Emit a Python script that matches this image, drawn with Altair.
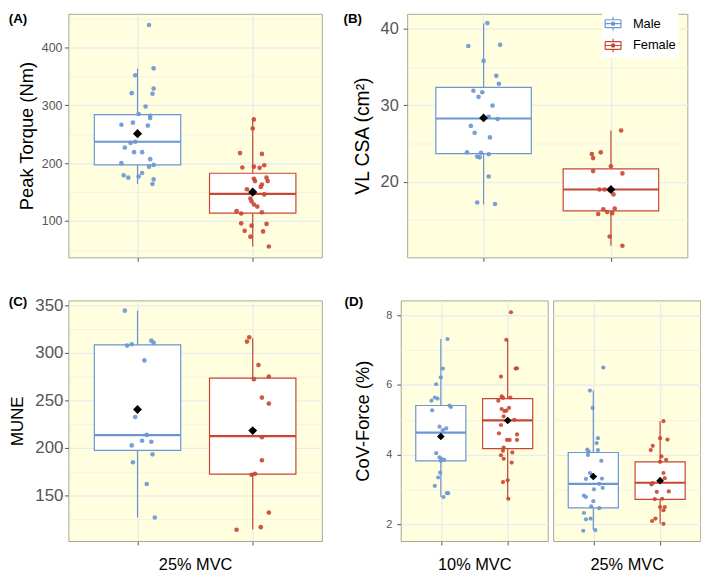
import altair as alt
import pandas as pd

FONT = "Liberation Sans"
BLUE = "#6A96D2"
RED = "#C84632"
GRID = "#EBEBEB"
LABEL_GRAY = "#555555"
TICK_GRAY = "#555555"
PANEL_FILL = "#FFFFE0"
PANEL_STROKE = "#A6A692"

SEXES = ["Male", "Female"]
SEX_POS = {"Male": 1, "Female": 2}
STAT_KEYS = ["lower", "q1", "median", "q3", "upper", "mean"]
panel_labels = ["(A)", "(B)", "(C)", "(D)"]

# ---------------- Panel A : Peak Torque (Nm) ----------------
a_male = [438.8, 364, 352, 329, 321, 320, 298, 285, 282, 278, 266.5, 270, 265, 237,
          235, 227, 219, 219, 207, 200, 197, 194, 179, 175, 183, 177, 172, 164]
a_male_jit = [0.10, 0.14, -0.02, 0.14, -0.05, 0.13, 0.07, 0.01, 0.11, 0.11, -0.14, -0.04,
              0.09, -0.02, -0.06, -0.11, -0.03, 0.04, 0.11, -0.14, 0.14, 0.10, -0.12,
              -0.08, 0.04, 0.01, 0.14, 0.13]
a_female = [275.6, 260, 217.5, 216, 196.5, 192.5, 194, 192, 173, 175, 169, 169, 163, 159,
            155, 146, 139, 134, 128.5, 125, 117, 113, 115, 96, 92, 95, 83, 82, 73, 56]
a_female_jit = [0.01, 0.00, -0.11, 0.08, 0.10, -0.09, 0.01, 0.06, 0.01, 0.12, 0.02, 0.13,
                0.08, 0.07, -0.05, 0.10, -0.02, -0.01, 0.01, 0.04, -0.14, -0.10, 0.08,
                -0.10, -0.01, 0.12, -0.07, 0.09, -0.02, 0.14]
a_male_stats = [164, 197, 237, 284, 363.5, 251]
a_female_stats = [56, 113.6, 147, 182.6, 275.6, 150]
a_major = [100, 200, 300, 400]
a_minor = [50, 150, 250, 350, 450]
a_domain = [37.2, 458.2]

# ---------------- Panel B : VL CSA (cm2) ----------------
b_male = [40.74, 37.75, 37.9, 35.8, 33.85, 32.8, 31.9, 31.7, 31.1, 29.96, 28.5, 28.2,
          27.3, 26.4, 25.8, 23.85, 23.8, 23.6, 23.3, 23.2, 20.7, 17.3, 17.1]
b_male_jit = [0.03, -0.12, 0.13, 0.00, 0.10, 0.12, -0.08, -0.01, -0.04, 0.07, 0.04, 0.11,
              -0.10, -0.07, 0.05, -0.13, -0.02, 0.04, -0.05, -0.03, 0.04, -0.05, 0.09]
b_female = [26.7, 23.64, 23.85, 23.1, 22.03, 21.4, 21.1, 19.0, 19.0, 18.9, 18.35, 16.4,
            16.5, 15.8, 16.06, 15.9, 12.86, 11.65]
b_female_jit = [0.08, -0.15, -0.08, -0.14, 0.00, -0.14, 0.09, -0.09, -0.05, -0.01, 0.02,
                -0.06, 0.03, -0.10, -0.03, 0.01, -0.01, 0.09]
b_male_stats = [17.05, 23.68, 28.27, 32.34, 40.7, 28.35]
b_female_stats = [11.65, 16.2, 19.0, 21.7, 26.7, 19.0]
b_major = [20, 30, 40]
b_minor = [15, 25, 35]
b_domain = [10.13, 41.95]

# ---------------- Panel C : MUNE ----------------
c_male = [344.4, 307.6, 309, 312.8, 310.4, 292, 232.3, 213.5, 207.3, 206.3, 202.4, 193,
          184.7, 161.8, 126.4]
c_male_jit = [-0.11, -0.09, -0.05, 0.12, 0.14, 0.06, -0.02, 0.08, 0.04, 0.12, -0.05, 0.13,
              -0.04, 0.08, 0.15]
c_female = [316.3, 311.8, 287.2, 275, 272.2, 252.8, 246.5, 211.1, 186.8, 171.5, 172.6,
            131.6, 116.3, 113.5]
c_female_jit = [-0.03, -0.05, 0.05, 0.14, 0.01, 0.08, 0.14, 0.08, 0.08, -0.01, 0.02, 0.14,
                0.07, -0.14]
c_male_stats = [126.4, 197.2, 213.2, 308.3, 344.4, 240.3]
c_female_stats = [113.9, 172.2, 212.2, 273.3, 315.3, 218.0]
c_major = [150, 200, 250, 300, 350]
c_minor = [125, 175, 225, 275, 325]
c_domain = [101.7, 355.2]

# ---------------- Panel D : CoV-Force (%) ----------------
d10_male = [7.32, 6.47, 6.22, 6.02, 5.55, 5.64, 5.61, 5.41, 5.37, 5.27, 4.80, 4.75, 4.70,
            4.04, 3.92, 3.88, 3.85, 3.82, 3.48, 3.34, 3.10, 2.89, 2.89, 2.78]
d10_male_jit = [0.10, 0.03, 0.00, -0.07, -0.14, -0.09, -0.05, 0.13, 0.15, -0.13, -0.02,
                0.08, 0.03, -0.07, -0.02, 0.01, 0.05, 0.00, -0.01, -0.04, -0.09, 0.09,
                0.11, 0.04]
d10_female = [8.09, 7.30, 6.47, 6.48, 6.24, 5.67, 5.63, 5.55, 5.64, 5.34, 5.31, 5.25, 5.26,
              5.10, 5.00, 4.85, 4.61, 4.58, 4.42, 4.42, 4.42, 4.20, 4.11, 4.06, 3.98, 3.88,
              3.77, 3.26, 3.21, 2.73]
d10_female_jit = [0.05, -0.02, 0.12, 0.14, -0.10, -0.09, -0.07, -0.14, 0.04, 0.02, -0.09,
                  -0.05, -0.02, -0.06, 0.10, -0.10, -0.13, 0.14, 0.14, -0.01, 0.03, -0.06,
                  -0.07, 0.07, -0.10, -0.06, 0.06, 0.00, -0.07, 0.01]
d25_male = [6.50, 5.84, 5.34, 4.47, 4.33, 4.14, 4.09, 4.13, 3.99, 3.82, 3.47, 3.41, 3.30,
            3.31, 3.16, 3.04, 3.00, 2.82, 2.78, 2.66, 2.51, 2.46, 2.32, 2.16, 2.14, 1.81, 1.83]
d25_male_jit = [0.15, -0.05, -0.01, 0.07, 0.05, -0.09, -0.07, 0.07, -0.08, 0.12, -0.05,
                -0.02, -0.11, 0.13, 0.09, 0.14, 0.01, -0.14, -0.11, 0.00, -0.03, 0.09,
                -0.14, -0.04, -0.11, -0.15, 0.03]
d25_female = [4.96, 4.47, 4.43, 4.25, 4.13, 3.95, 3.85, 3.79, 3.47, 3.32, 3.18, 3.14, 3.25,
              2.93, 2.94, 2.72, 2.73, 2.49, 2.49, 2.40, 2.16, 2.09, 2.01]
d25_female_jit = [0.05, 0.00, 0.11, -0.11, -0.14, 0.02, 0.09, 0.00, 0.05, 0.07, -0.11,
                  -0.13, 0.00, -0.05, 0.13, -0.08, 0.03, 0.00, 0.07, 0.05, -0.07, -0.12, 0.05]
d10_male_stats = [2.78, 3.82, 4.63, 5.41, 7.32, 4.52]
d10_female_stats = [2.73, 4.17, 4.98, 5.61, 7.30, 4.98]
d25_male_stats = [1.83, 2.47, 3.16, 4.06, 5.84, 3.37]
d25_female_stats = [2.01, 2.71, 3.19, 3.79, 4.96, 3.25]
d_major = [2, 4, 6, 8]
d_minor = [3, 5, 7]
d_domain = [1.516, 8.43]
d_facets = ["10% MVC", "25% MVC"]


def points_df(mv, mj, fv, fj):
    rows = [{"sex": "Male", "pos": SEX_POS["Male"], "jit": j, "value": v} for v, j in zip(mv, mj)]
    rows += [{"sex": "Female", "pos": SEX_POS["Female"], "jit": j, "value": v} for v, j in zip(fv, fj)]
    return pd.DataFrame(rows)


def stats_df(ms, fs):
    rows = []
    for sex, st in (("Male", ms), ("Female", fs)):
        r = {"sex": sex, "pos": SEX_POS[sex]}
        r.update(dict(zip(STAT_KEYS, st)))
        rows.append(r)
    return pd.DataFrame(rows)


def sex_scale():
    return alt.Scale(domain=SEXES, range=[BLUE, RED])


# boxplot key glyph: open box edges (zero-area sub-paths), whiskers, median, small dot
LEGEND_PATH = ("M-1,-0.5L1,-0.5 M1,-0.5L1,0.5 M1,0.5L-1,0.5 M-1,0.5L-1,-0.5 "
               "M0,-0.85L0,-0.5 M0,0.5L0,0.85 M-1,0L1,0 "
               "M0.2,0A0.2,0.2,0,1,1,-0.2,0A0.2,0.2,0,1,1,0.2,0")


def make_panel(pts, st, domain, major, minor, *, width, height, ytitle=None, tick_fs=12,
               title_fs=18, title_x=-40, label_pad=2, xtitle=None, show_y=True,
               label=None, label_x=-60, label_y=-2, pt_size=18, mean_size=55, legend=False):
    test = "indexof([" + ",".join(str(v) for v in major) + "], datum.value) >= 0"
    if show_y:
        yaxis = alt.Axis(values=major + minor, title=ytitle, format=".0f",
                         labelExpr=f"{test} ? datum.label : ''",
                         labelFontSize=tick_fs, labelColor=LABEL_GRAY, labelPadding=label_pad,
                         labelOverlap=False, labelFont=FONT,
                         tickSize=4, tickColor=TICK_GRAY, tickWidth=1,
                         tickOpacity={"condition": {"test": test, "value": 1}, "value": 0},
                         grid=True, gridColor=GRID,
                         gridWidth={"condition": {"test": test, "value": 1.4}, "value": 0.7},
                         domain=False, titleFontSize=title_fs, titleFontWeight="normal",
                         titleColor="black", titleFont=FONT, titleX=title_x,
                         titleBaseline="middle")
    else:
        yaxis = alt.Axis(values=major + minor, title=None, labels=False, ticks=False,
                         grid=True, gridColor=GRID,
                         gridWidth={"condition": {"test": test, "value": 1.4}, "value": 0.7},
                         domain=False)
    xkw = dict(values=[1, 2], labels=False, ticks=True, tickSize=4, tickColor=TICK_GRAY,
               grid=True, gridColor=GRID, gridWidth=1.4, domain=False, title=xtitle)
    if xtitle:
        xkw.update(titleFontSize=16.5, titleFontWeight="normal", titleColor="black",
                   titleFont=FONT, titleY=24, titleBaseline="middle")
    xaxis = alt.Axis(**xkw)
    xs = alt.Scale(domain=[0.4, 2.6], nice=False, zero=False)
    ys = alt.Scale(domain=domain, nice=False, zero=False)

    def X(f):
        return alt.X(f"{f}:Q", scale=xs, axis=xaxis)

    def Y(f):
        return alt.Y(f"{f}:Q", scale=ys, axis=yaxis)

    if legend:
        leg = alt.Legend(title=None, orient="none", legendX=197, legendY=-1, direction="vertical",
                         padding=2, fillColor="white", symbolType=LEGEND_PATH, symbolSize=256,
                         symbolStrokeWidth=1.2, labelFontSize=13,
                         labelFont=FONT, labelColor="black", labelOffset=11, rowPadding=2,
                         labelExpr="datum.label + '\u2003'")
    else:
        leg = None

    sbase = alt.Chart(st).transform_calculate(
        xl="datum.pos - 0.375", xr="datum.pos + 0.375")
    whisk = sbase.mark_rule(strokeWidth=1.2).encode(
        x=X("pos"), y=Y("lower"), y2="upper:Q",
        stroke=alt.Stroke("sex:N", scale=sex_scale(), legend=leg))
    box = sbase.mark_rect(fill="white", strokeWidth=1.2).encode(
        x=X("xl"), x2="xr:Q", y=Y("q1"), y2="q3:Q",
        stroke=alt.Stroke("sex:N", scale=sex_scale(), legend=None))
    med = sbase.mark_rule(strokeWidth=2.2).encode(
        x=X("xl"), x2="xr:Q", y=Y("median"),
        stroke=alt.Stroke("sex:N", scale=sex_scale(), legend=None))
    dots = alt.Chart(pts).transform_calculate(xj="datum.pos + datum.jit").mark_circle(
        size=pt_size, opacity=0.9).encode(
        x=X("xj"), y=Y("value"),
        fill=alt.Fill("sex:N", scale=sex_scale(), legend=None))
    mean = sbase.mark_point(shape="diamond", filled=True, color="black", size=mean_size,
                            opacity=1).encode(x=X("pos"), y=Y("mean"))
    layers = [whisk, box, med, dots, mean]
    if label:
        lab = alt.Chart(pd.DataFrame({"t": [label]})).mark_text(
            align="left", baseline="top", fontSize=13.5, fontWeight="bold", font=FONT,
            color="black").encode(x=alt.value(label_x), y=alt.value(label_y), text="t:N")
        layers.append(lab)
    return alt.layer(*layers).properties(width=width, height=height)


pA = make_panel(points_df(a_male, a_male_jit, a_female, a_female_jit),
                stats_df(a_male_stats, a_female_stats), a_domain, a_major, a_minor,
                width=256, height=246, ytitle="Peak Torque (Nm)", tick_fs=12.5, title_fs=18.5,
                title_x=-42.5, label_pad=2.5, label=panel_labels[0], label_x=-60.3, label_y=-2,
                pt_size=22, mean_size=85)
pB = make_panel(points_df(b_male, b_male_jit, b_female, b_female_jit),
                stats_df(b_male_stats, b_female_stats), b_domain, b_major, b_minor,
                width=283, height=246, ytitle="VL CSA (cm²)", tick_fs=16.5, title_fs=19.5,
                title_x=-44.8, label_pad=5, label=panel_labels[1], label_x=-64.3, label_y=-2,
                pt_size=22, mean_size=80, legend=True)
pC = make_panel(points_df(c_male, c_male_jit, c_female, c_female_jit),
                stats_df(c_male_stats, c_female_stats), c_domain, c_major, c_minor,
                width=256, height=243, ytitle="MUNE", tick_fs=17, title_fs=17,
                title_x=-51.5, label_pad=1.5, xtitle="25% MVC", label=panel_labels[2],
                label_x=-60.3, label_y=-5, pt_size=22, mean_size=80)
pD1 = make_panel(points_df(d10_male, d10_male_jit, d10_female, d10_female_jit),
                 stats_df(d10_male_stats, d10_female_stats), d_domain, d_major, d_minor,
                 width=148.5, height=243, ytitle="CoV-Force (%)", tick_fs=11, title_fs=18.5,
                 title_x=-38.2, label_pad=5, xtitle=d_facets[0], label=panel_labels[3],
                 label_x=-56.7, label_y=-5, pt_size=18, mean_size=60)
pD2 = make_panel(points_df(d25_male, d25_male_jit, d25_female, d25_female_jit),
                 stats_df(d25_male_stats, d25_female_stats), d_domain, d_major, d_minor,
                 width=148.5, height=243, show_y=False, xtitle=d_facets[1],
                 pt_size=18, mean_size=60)

RES = dict(color="independent", stroke="independent", fill="independent")
LRES = dict(stroke="independent", fill="independent")

rowD = alt.hconcat(pD1, pD2, spacing=5, bounds="flush").resolve_scale(**RES).resolve_legend(**LRES)
row1 = alt.hconcat(pA, pB, spacing=20.2).resolve_scale(**RES).resolve_legend(**LRES)
row2 = alt.hconcat(pC, rowD, spacing=20.7).resolve_scale(**RES).resolve_legend(**LRES)

chart = (alt.vconcat(row1, row2, spacing=32.5)
         .resolve_scale(**RES).resolve_legend(**LRES)
         .properties(padding={"left": 0, "top": 0, "right": 0, "bottom": 0})
         .configure(background="white")
         .configure_view(fill=PANEL_FILL, stroke=PANEL_STROKE, strokeWidth=1))

chart.save("out.html", embed_options={"renderer": "svg", "actions": False})
